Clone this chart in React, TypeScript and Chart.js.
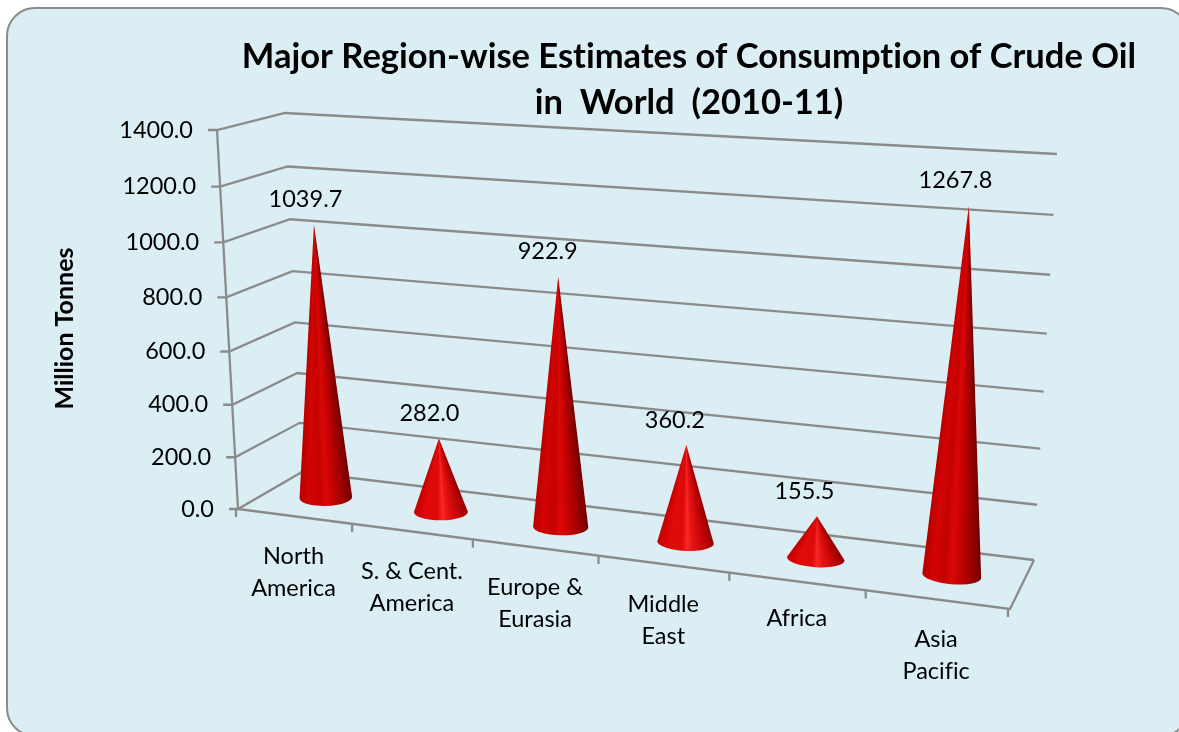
import React, { useEffect, useRef } from "react";
import { Chart, registerables } from "chart.js";

Chart.register(...registerables);

const categories: string[][] = [
  ["North", "America"],
  ["S. & Cent.", "America"],
  ["Europe &", "Eurasia"],
  ["Middle", "East"],
  ["Africa"],
  ["Asia", "Pacific"],
];
const consumption: number[] = [1039.7, 282.0, 922.9, 360.2, 155.5, 1267.8];
const valueTicks: number[] = [0, 200, 400, 600, 800, 1000, 1200, 1400];
const titleLines: string[] = ["Major Region-wise Estimates of Consumption of Crude Oil", "in  World  (2010-11)"];
const axisTitle = "Million Tonnes";

type P = [number, number];
const FONT = "Lato, Carlito, Calibri, sans-serif";
const GRID = "#8b8b8b";

function homography(p0: P, p1: P, p2: P, p3: P) {
  const dx1 = p1[0] - p2[0], dx2 = p3[0] - p2[0], sx = p0[0] - p1[0] + p2[0] - p3[0];
  const dy1 = p1[1] - p2[1], dy2 = p3[1] - p2[1], sy = p0[1] - p1[1] + p2[1] - p3[1];
  const den = dx1 * dy2 - dx2 * dy1;
  const g = (sx * dy2 - dx2 * sy) / den, h = (dx1 * sy - sx * dy1) / den;
  const a = p1[0] - p0[0] + g * p1[0], b = p3[0] - p0[0] + h * p3[0], c = p0[0];
  const d = p1[1] - p0[1] + g * p1[1], e = p3[1] - p0[1] + h * p3[1], f = p0[1];
  return (u: number, v: number): P => {
    const w = g * u + h * v + 1;
    return [(a * u + b * v + c) / w, (d * u + e * v + f) / w];
  };
}

// The 3-D box: front and back planes of the Excel-style perspective view
const front = homography([238, 509], [1010, 609], [1034, 184], [217, 130]);
const back = homography([302, 472], [1034, 560], [1057, 154], [285, 113]);
const project = (u: number, v: number, depth: number): P => {
  const a = front(u, v), b = back(u, v);
  return [a[0] + (b[0] - a[0]) * depth, a[1] + (b[1] - a[1]) * depth];
};

function line(ctx: CanvasRenderingContext2D, pts: P[], close = false) {
  ctx.beginPath();
  pts.forEach((p, i) => (i ? ctx.lineTo(p[0], p[1]) : ctx.moveTo(p[0], p[1])));
  if (close) ctx.closePath();
  ctx.stroke();
}

const tallStops: [number, string][] = [
  [0, "#700000"], [0.18, "#a00000"], [0.38, "#c80303"], [0.5, "#dc0707"],
  [0.62, "#c40101"], [0.82, "#d20303"], [1, "#b80000"],
];
const shortStops: [number, string][] = [
  [0, "#940000"], [0.2, "#c80606"], [0.38, "#e81414"], [0.46, "#fa2828"],
  [0.56, "#dc0a0a"], [0.78, "#e20a0a"], [1, "#c40000"],
];

const boxPlugin = {
  id: "box3d",
  beforeDraw(chart: any) {
    const { ctx, chartArea: ca, scales } = chart;
    (ctx as any).letterSpacing = "0.001px"; // keeps "ti" and "fi" as separate letters
    ctx.save();
    // panel
    ctx.beginPath();
    ctx.roundRect(7, 8, 1182, 728, 28);
    ctx.fillStyle = "#dbeef4";
    ctx.fill();
    ctx.strokeStyle = "#8b8b8b";
    ctx.lineWidth = 2;
    ctx.stroke();

    const y = scales.y, x = scales.x;
    const vOf = (value: number) => (ca.bottom - y.getPixelForValue(value)) / ca.height;
    ctx.strokeStyle = GRID;
    ctx.lineWidth = 2.3;
    ctx.lineJoin = "miter";
    // walls
    y.ticks.forEach((t: any) => {
      const v = vOf(t.value);
      const f = front(0, v), b0 = back(0, v), b1 = back(1, v);
      line(ctx, [[f[0] - 9, f[1]], f, b0, b1]);
    });
    line(ctx, [front(0, 0), front(0, 1)]);
    // floor
    line(ctx, [front(0, 0), front(1, 0), back(1, 0)]);
    // category boundary ticks
    const n = x.ticks.length;
    for (let i = 0; i <= n; i++) {
      const p = front(i / n, 0);
      line(ctx, [[p[0] - 2, p[1]], [p[0] - 2, p[1] + 8]]);
    }
    // tick labels
    ctx.fillStyle = "#000";
    ctx.font = `23.5px ${FONT}`;
    ctx.textAlign = "right";
    ctx.textBaseline = "middle";
    y.ticks.forEach((t: any) => {
      const f = front(0, vOf(t.value));
      ctx.fillText(t.label, f[0] - 24, f[1]);
    });
    ctx.textAlign = "center";
    categories.forEach((lines, i) => {
      const u = (x.getPixelForValue(i) - ca.left) / ca.width;
      const p = front(u, 0);
      const top = p[1] + (lines.length > 1 ? 40 : 37);
      lines.forEach((s, k) => ctx.fillText(s, p[0] - 2, top + k * 32));
    });
    ctx.restore();
  },
  beforeDatasetsDraw(chart: any) {
    const { ctx, chartArea: ca } = chart;
    const meta = chart.getDatasetMeta(0);
    ctx.save();
    meta.data.forEach((el: any) => {
      const u = (el.x - ca.left) / ca.width;
      const v = (el.base - el.y) / ca.height;
      const base = project(u, 0, 0.5);
      const tip = project(u, v, 0.5);
      const rx = (el.width / 2) * (0.67 + 0.1 * u);
      const ry = 8.5;
      const rot = -0.04 + 0.14 * u;
      const cs = Math.cos(rot), sn = Math.sin(rot);
      const right: P = [base[0] + rx * cs, base[1] + rx * sn];
      const left: P = [base[0] - rx * cs, base[1] - rx * sn];
      const a1 = Math.atan2(right[1] - tip[1], right[0] - tip[0]);
      const a2 = Math.atan2(left[1] - tip[1], left[0] - tip[0]);
      const span = (a2 - a1) / (2 * Math.PI);
      const grad = ctx.createConicGradient(a1, tip[0], tip[1]);
      const stops = base[1] - tip[1] < 130 ? shortStops : tallStops;
      stops.forEach(([f, c]) => grad.addColorStop(f * span, c));
      grad.addColorStop(1, stops[stops.length - 1][1]);
      ctx.beginPath();
      ctx.moveTo(tip[0], tip[1]);
      ctx.lineTo(right[0], right[1]);
      ctx.ellipse(base[0], base[1], rx, ry, rot, 0, Math.PI);
      ctx.closePath();
      ctx.fillStyle = grad;
      ctx.fill();
    });
    // value labels
    ctx.fillStyle = "#000";
    ctx.font = `23.5px ${FONT}`;
    ctx.textAlign = "center";
    ctx.textBaseline = "middle";
    meta.data.forEach((el: any, i: number) => {
      const u = (el.x - ca.left) / ca.width;
      const tip = project(u, (el.base - el.y) / ca.height, 0.5);
      ctx.fillText(consumption[i].toFixed(1), tip[0] - 8 - 6 * u, tip[1] - 25);
    });
    ctx.restore();
    return false;
  },
};

export default function App() {
  const ref = useRef<HTMLCanvasElement>(null);
  useEffect(() => {
    const chart = new Chart(ref.current as HTMLCanvasElement, {
      type: "bar",
      data: {
        labels: categories,
        datasets: [{ data: consumption, backgroundColor: "#c80000", categoryPercentage: 1, barPercentage: 0.5 }],
      },
      options: {
        responsive: false,
        animation: false,
        layout: { padding: { left: 50, right: 25, top: 0, bottom: 195 } },
        plugins: {
          legend: { display: false },
          tooltip: { enabled: false },
          title: {
            display: true,
            fullSize: false,
            text: titleLines,
            color: "#000",
            font: { family: FONT, size: 34.5, weight: "bold", lineHeight: 1.333 },
            padding: { top: 34, bottom: 2 },
          },
        },
        scales: {
          x: { ticks: { display: false }, grid: { display: false }, border: { display: false } },
          y: {
            min: 0,
            max: 1400,
            afterBuildTicks: (scale: any) => {
              scale.ticks = valueTicks.map((value) => ({ value }));
            },
            ticks: { display: false, callback: (v: any) => Number(v).toFixed(1) },
            grid: { display: false },
            border: { display: false },
            title: {
              display: true,
              text: axisTitle,
              color: "#000",
              font: { family: FONT, size: 25, weight: "bold" },
              padding: { top: 0, bottom: 136 },
            },
          },
        },
      },
      plugins: [boxPlugin],
    } as any);
    return () => chart.destroy();
  }, []);
  return (
    <div style={{ position: "fixed", left: 0, top: 0, width: 1179, height: 732, overflow: "hidden" }}>
      <canvas ref={ref} width={1179} height={732} style={{ display: "block" }} />
    </div>
  );
}
